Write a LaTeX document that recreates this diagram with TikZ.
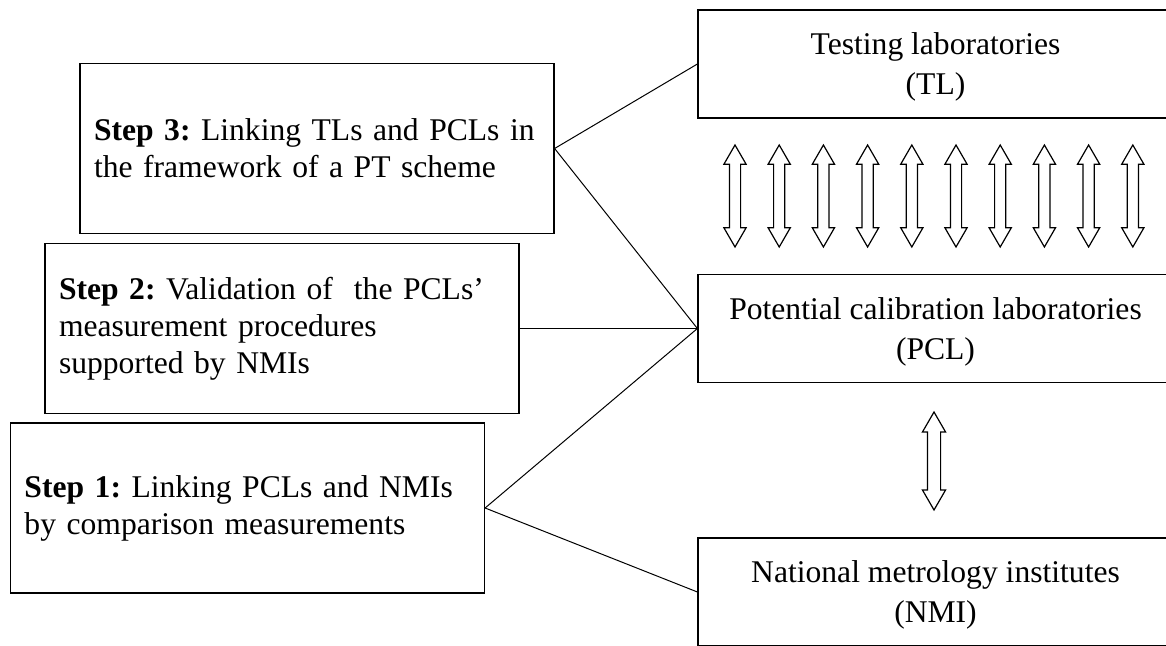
\documentclass[tikz,border=0pt]{standalone}
\usepackage{fontspec}
\setmainfont{Liberation Serif}
\usetikzlibrary{shapes.arrows}

\begin{document}
\begin{tikzpicture}[x=0.5pt,y=-0.5pt,
		stepbox/.style={draw, line width=0.6pt, minimum width=237pt, minimum height=85pt, text width=223pt, inner xsep=7pt, align=left, font=\fontsize{15.8}{18.5}\selectfont\frenchspacing},
		labbox/.style={draw, line width=0.6pt, minimum width=237.5pt, minimum height=54pt, align=center, font=\fontsize{15.8}{20}\selectfont},
		link/.style={line width=0.5pt},
		twoway/.style={draw, line width=0.6pt, double arrow, double arrow tip angle=60, double arrow head extend=2.75pt, inner xsep=0pt, inner ysep=2.5pt, minimum height=51pt, rotate=90}]
		\useasboundingbox (0,0) rectangle (1166,646);
		\node[labbox] (tl) at (935.5,64) {\strut Testing laboratories\\(TL)};
		\node[labbox] (pcl) at (935.5,328.5) {\strut Potential calibration laboratories\\(PCL)};
		\node[labbox] (nmi) at (935.5,592) {\strut National metrology institutes\\(NMI)};
		\node[stepbox] (step3) at (317,148.5) {\textbf{Step 3:} Linking TLs and PCLs in\\the framework of a PT scheme};
		\node[stepbox] (step2) at (282,328.5) {\textbf{Step 2:} Validation of\ \ the PCLs’\\measurement procedures\\supported by NMIs};
		\node[stepbox] (step1) at (247.5,508) {\textbf{Step 1:} Linking PCLs and NMIs\\by comparison measurements};
		\foreach \i in {0,...,9}
			\node[twoway] (tlpcl\i) at ({735+44.2*\i},196) {};
		\node[twoway, inner ysep=3pt, double arrow head extend=2.5pt, minimum height=49pt] (pclnmi) at (934,461) {};
		\draw[link] (step3.east) -- (tl.west);
		\draw[link] (step3.east) -- (pcl.west);
		\draw[link] (step2.east) -- (pcl.west);
		\draw[link] (step1.east) -- (pcl.west);
		\draw[link] (step1.east) -- (nmi.west);
	\end{tikzpicture}
\end{document}
